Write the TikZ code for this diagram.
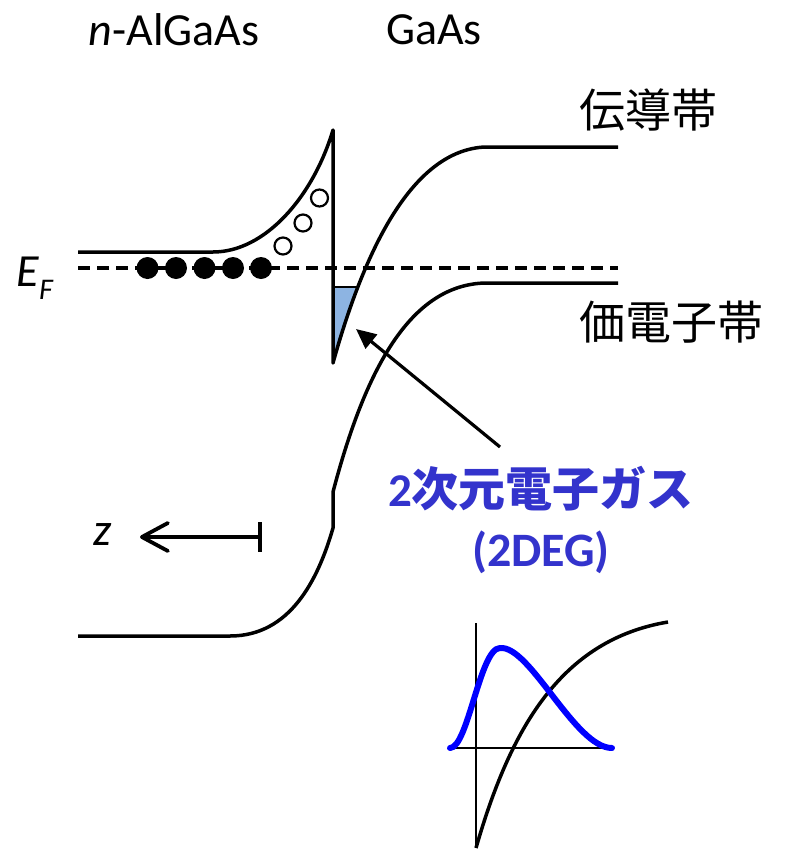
\documentclass[tikz,border=0pt]{standalone}
\usepackage{fontspec}
\setmainfont{Carlito}
\newfontfamily\cjk{Noto Sans CJK JP}
\usetikzlibrary{arrows.meta}
\definecolor{degblue}{RGB}{51,51,204}
\definecolor{wellfill}{RGB}{141,180,226}
\definecolor{wfblue}{RGB}{0,0,255}
\begin{document}
\begin{tikzpicture}[x=1pt,y=-1pt,
  band/.style={line width=3.5pt,line join=round},
  fermi/.style={line width=3.2pt,dash pattern=on 12pt off 7pt},
  electron/.style={circle,fill=black,inner sep=0pt,minimum size=22pt},
  hole/.style={circle,draw=black,line width=2.2pt,fill=white,inner sep=0pt,minimum size=17pt},
  lbl/.style={inner sep=0pt,font=\fontsize{46}{54}\selectfont},
  cjklbl/.style={inner sep=0pt,font=\cjk\fontsize{46}{54}\selectfont},
  deg/.style={inner sep=0pt,text=degblue,font=\fontsize{47}{54}\selectfont\bfseries},
  pointer/.style={line width=3.2pt,-{Triangle[length=20pt,width=18pt]}},
  axisz/.style={line width=3.8pt,{Bar[width=30pt]}-{Straight Barb[round,length=26pt,width=28pt]}},
  axis/.style={line width=2.8pt},
  wave/.style={line width=6pt,wfblue,line cap=round},
  pot/.style={line width=3.5pt},
]
\useasboundingbox (0,0) rectangle (786,849);

% labels
\node[lbl] (lalgaas) at (174,30) {\textit{n}-AlGaAs};
\node[lbl] (lgaas) at (434,30) {GaAs};
\node[cjklbl,anchor=west] (lcb) at (579,110) {伝導帯};
\node[cjklbl,anchor=west] (lvb) at (579,322) {価電子帯};
\node[lbl,anchor=base west] (lef) at (16,286) {\textit{E}\raisebox{-0.3em}{\fontsize{30}{36}\selectfont\textit{F}}};
\node[deg] (ldeg) at (541,489) {2{\cjk 次元電子ガス}};
\node[deg,font=\fontsize{48}{54}\selectfont\bfseries] (ldegb) at (541,552) {(2DEG)};
\node[lbl] (lz) at (103,535) {\textit{z}};

% coordinates
\coordinate (cbL) at (78,252);
\coordinate (cbA) at (213,252);
\coordinate (spikeTop) at (333,130);
\coordinate (spikeBot) at (333,363);
\coordinate (cbB) at (485,147);
\coordinate (cbR) at (618,147);
\coordinate (vbL) at (78,636);
\coordinate (vbA) at (230,636);
\coordinate (stepLo) at (333,528);
\coordinate (stepHi) at (333,492);
\coordinate (vbB) at (485,283);
\coordinate (vbR) at (618,283);
\coordinate (efL) at (78,268);
\coordinate (efR) at (618,268);

% 2DEG fill
\begin{scope}
  \clip (333,287) rectangle (420,370);
  \fill[wellfill] (spikeBot) .. controls (370,230) and (420,150) .. (cbB) -- (333,147) -- cycle;
\end{scope}
\coordinate (subL) at (333,287);
\coordinate (subR) at (357,287);
\draw[line width=2.8pt] (subL) -- (subR);

% Fermi level
\draw[fermi] (efL) -- (efR);

% conduction band
\draw[band] (cbL) -- (cbA) .. controls (265,252) and (313,197) .. (spikeTop)
  -- (spikeBot) .. controls (370,230) and (420,150) .. (cbB) -- (cbR);
% valence band
\draw[band] (vbL) -- (vbA) .. controls (290,636) and (318,580) .. (stepLo)
  -- (stepHi) .. controls (365,370) and (410,285) .. (vbB) -- (vbR);

% electrons
\foreach \i/\x in {1/147.5,2/176,3/204.5,4/233,5/261}
  \node[electron] (e\i) at (\x,268) {};
% holes
\node[hole] (h1) at (283,246) {};
\node[hole] (h2) at (303,223) {};
\node[hole] (h3) at (319.5,198) {};

% pointer arrow
\coordinate (arrTail) at (500,447);
\coordinate (arrTip) at (356,329);
\draw[pointer] (arrTail) -- (arrTip);

% z axis
\coordinate (zBar) at (262,537);
\coordinate (zTip) at (140,537);
\draw[axisz] (zBar) -- (zTip);

% inset
\coordinate (ayT) at (476,623);
\coordinate (ayB) at (476,846);
\coordinate (axL) at (448,748);
\coordinate (axR) at (613,748);
\draw[axis] (ayT) -- (ayB);
\draw[axis] (axL) -- (axR);
\coordinate (potS) at (476,848);
\coordinate (potE) at (668,622);
\draw[pot] (potS) .. controls (510,730) and (560,640) .. (potE);
\coordinate (wS) at (450,748);
\coordinate (wP) at (500,648);
\coordinate (wE) at (612,748);
\draw[wave] (wS) .. controls (468,748) and (480,648) .. (wP)
  .. controls (530,645) and (575,748) .. (wE);
\end{tikzpicture}
\end{document}
